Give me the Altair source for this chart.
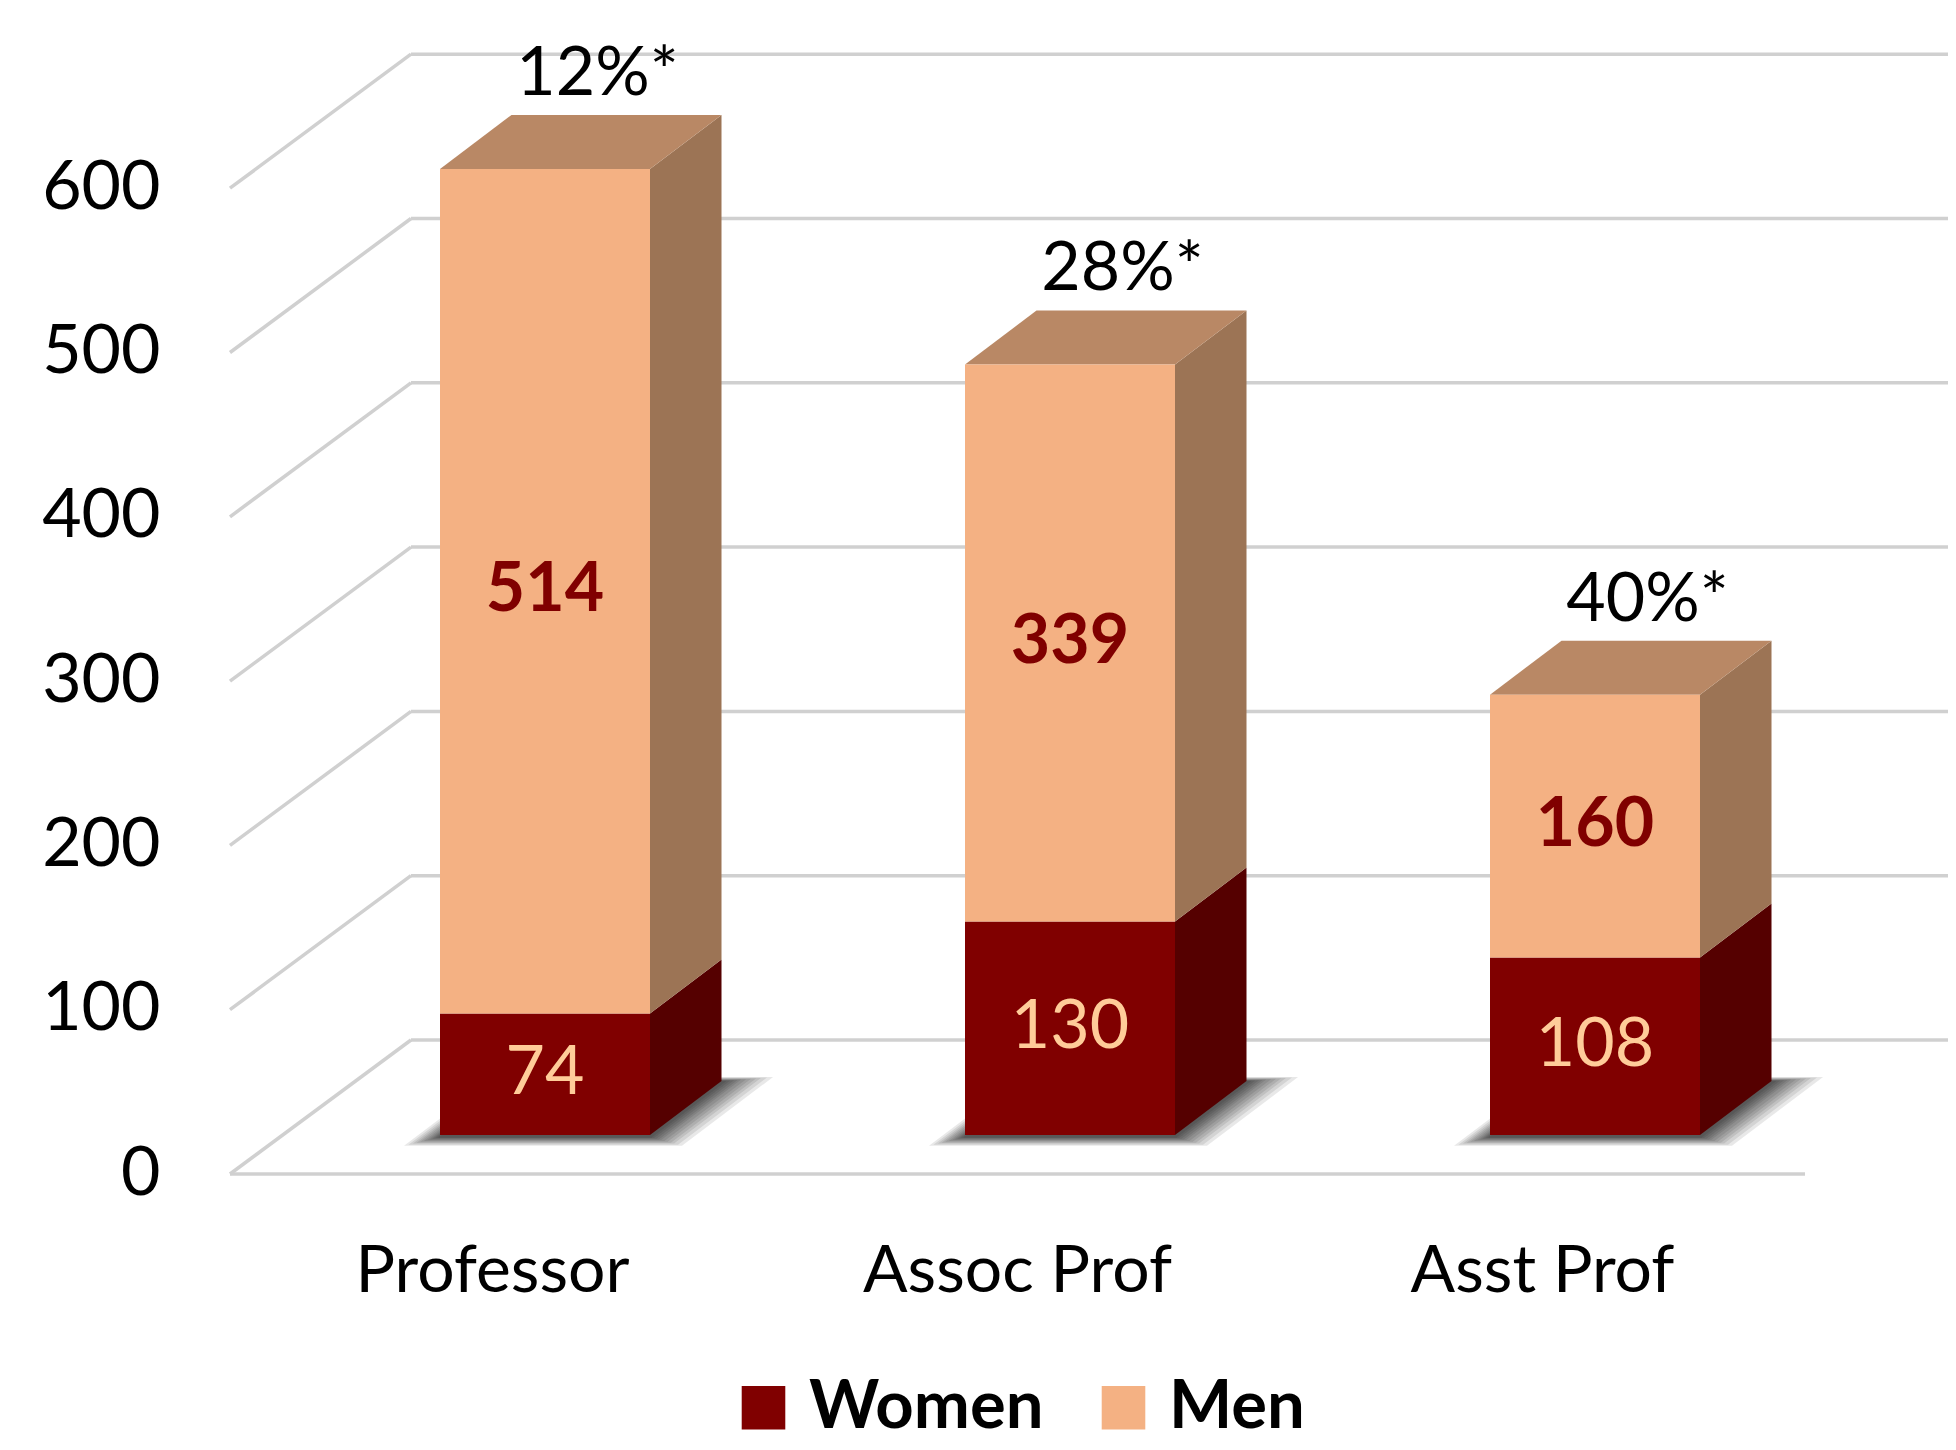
import altair as alt
import pandas as pd

# ---------------- data ----------------
categories = ["Professor", "Assoc Prof", "Asst Prof"]
women = [74, 130, 108]
men = [514, 339, 160]
share_labels = ["12%*", "28%*", "40%*"]
y_ticks = [0, 100, 200, 300, 400, 500, 600]
series = ["Women", "Men"]

# ---------------- style ----------------
FONT = "Lato"
FRONT = {"Women": "#800000", "Men": "#F4B183"}
SIDE = {"Women": "#550000", "Men": "#9C7455"}
TOP = "#B98865"
GRID = "#D0D0D0"

# geometry of the oblique 3-D projection (pixels -> data units)
K = 1.643          # px per value unit
UX = 525.0         # px per category slot
W_PLOT, H_PLOT = 1575, 1166
Y_TOP = H_PLOT / K
def px2u(p): return p / UX
def py2v(p): return p / K

WALL_DX, WALL_DY = px2u(181), py2v(134)
BAR_DY0 = py2v(39)
DEP_DX, DEP_DY = px2u(71.5), py2v(54)
BAR_L, BAR_R = 0.4, 0.8

xs = alt.Scale(domain=[0, 3], nice=False, zero=False)
ys = alt.Scale(domain=[0, Y_TOP], nice=False, zero=False)
Y_AX = alt.Axis(values=y_ticks, labelFont=FONT, labelFontSize=68, labelColor="#000",
                domain=False, ticks=False, grid=False, labelPadding=70, title=None)

def X(f="x:Q"):
    return alt.X(f, scale=xs, axis=None)

def Y(f="y:Q"):
    return alt.Y(f, scale=ys, axis=Y_AX)

# ---------------- grid / walls ----------------
rules = []
for v in y_ticks:
    rules.append(dict(x=WALL_DX, x2=3 + WALL_DX, y=v + WALL_DY, y2=v + WALL_DY))
    rules.append(dict(x=0, x2=WALL_DX, y=v, y2=v + WALL_DY))
rules.append(dict(x=0, x2=3, y=0, y2=0))
rules_df = pd.DataFrame(rules)

grid = alt.Chart(rules_df).mark_rule(color=GRID, strokeWidth=3.5).encode(
    x=X(), x2="x2:Q", y=Y(), y2="y2:Q")

# ---------------- polygons (shadows, side and top faces) ----------------
poly_rows = []
SH_STEPS = [2, 5, 8, 11, 14, 18, 22, 26, 30, 35, 40]
for i, c in enumerate(categories):
    # soft shadow under each bar, built from stacked translucent footprints
    for k, e in enumerate(SH_STEPS):
        yb = BAR_DY0 - py2v(2 + e * 0.22)
        yt = BAR_DY0 + DEP_DY + py2v(e * 0.1)
        s = px2u((yt - yb) * K * 71.5 / 54)
        L = i + BAR_L - px2u(e * 0.9)
        R = i + BAR_R + px2u(e * 0.8)
        pid = f"{i}-sh{k}"
        for x, y, y2 in [(L, yb, yb), (L + s, yb, yt), (R, yb, yt), (R + s, yt, yt)]:
            poly_rows.append(dict(poly=pid, z=0, fill="#000000", x=x, y=y, y2=y2))
    segs = [("Women", 0, women[i]), ("Men", women[i], women[i] + men[i])]
    for s_name, lo, hi in segs:
        pid = f"{i}-{s_name}-side"
        for x, y, y2 in [(i + BAR_R, lo + BAR_DY0, hi + BAR_DY0),
                         (i + BAR_R + DEP_DX, lo + BAR_DY0 + DEP_DY, hi + BAR_DY0 + DEP_DY)]:
            poly_rows.append(dict(poly=pid, z=1, fill=SIDE[s_name], x=x, y=y, y2=y2))
    t = women[i] + men[i] + BAR_DY0
    pid = f"{i}-top"
    for x, y, y2 in [(i + BAR_L, t, t), (i + BAR_L + DEP_DX, t, t + DEP_DY),
                     (i + BAR_R, t, t + DEP_DY), (i + BAR_R + DEP_DX, t + DEP_DY, t + DEP_DY)]:
        poly_rows.append(dict(poly=pid, z=1, fill=TOP, x=x, y=y, y2=y2))
poly_df = pd.DataFrame(poly_rows)

shadow = alt.Chart(poly_df[poly_df.z == 0]).mark_area(
    color="#000000", opacity=0.09, interpolate="linear").encode(
    x=X(), y=Y(), y2="y2:Q", detail="poly:N")

faces = alt.Chart(poly_df[poly_df.z == 1]).mark_area(interpolate="linear").encode(
    x=X(), y=Y(), y2="y2:Q", color=alt.Color("fill:N", scale=None), detail="poly:N")

# ---------------- front faces ----------------
front_rows = []
for i, c in enumerate(categories):
    for s_name, lo, hi in [("Women", 0, women[i]), ("Men", women[i], women[i] + men[i])]:
        front_rows.append(dict(category=c, series=s_name, x=i + BAR_L, x2=i + BAR_R,
                               y=lo + BAR_DY0, y2=hi + BAR_DY0))
front_df = pd.DataFrame(front_rows)

fronts = alt.Chart(front_df).mark_rect().encode(
    x=X(), x2="x2:Q", y=Y(), y2="y2:Q",
    color=alt.Color("series:N",
                    scale=alt.Scale(domain=series, range=[FRONT[s] for s in series]),
                    legend=alt.Legend(title=None, orient="none", direction="horizontal",
                                      legendX=500, legendY=1366,
                                      symbolType="square", symbolSize=1900, symbolStrokeWidth=0,
                                      labelFont=FONT, labelFontSize=67, labelFontWeight="bold",
                                      labelColor="#000", labelOffset=12, columnPadding=46,
                                      labelLimit=400)),
)

# ---------------- labels ----------------
lab_rows = []
for i, c in enumerate(categories):
    lab_rows.append(dict(kind="women", text=str(women[i]), x=i + 0.6, y=women[i] / 2 + BAR_DY0))
    lab_rows.append(dict(kind="men", text=str(men[i]), x=i + 0.6,
                         y=women[i] + men[i] / 2 + BAR_DY0))
lab_df = pd.DataFrame(lab_rows)

women_txt = alt.Chart(lab_df[lab_df.kind == "women"]).mark_text(
    font=FONT, fontSize=68, color="#FFCC99", baseline="middle", align="center").encode(
    x=X(), y=Y(), text="text:N")
men_txt = alt.Chart(lab_df[lab_df.kind == "men"]).mark_text(
    font=FONT, fontSize=68, fontWeight="bold", color="#800000", baseline="middle",
    align="center").encode(x=X(), y=Y(), text="text:N")

pct_df = pd.DataFrame(dict(text=share_labels, x=[i + 0.7 for i in range(3)],
                           y=[women[i] + men[i] + BAR_DY0 for i in range(3)]))
pct_txt = alt.Chart(pct_df).mark_text(
    font=FONT, fontSize=68, color="#000", baseline="middle", align="center", dy=-94).encode(
    x=X(), y=Y(), text="text:N")

cat_df = pd.DataFrame(dict(text=categories, x=[i + 0.5 for i in range(3)], y=[0, 0, 0]))
cat_txt = alt.Chart(cat_df).mark_text(
    font=FONT, fontSize=66, color="#000", baseline="middle", align="center", dy=98).encode(
    x=X(), y=Y(), text="text:N")

chart = alt.layer(grid, shadow, faces, fronts, women_txt, men_txt, pct_txt, cat_txt).properties(
    width=W_PLOT, height=H_PLOT,
    autosize=alt.AutoSizeParams(type="none"),
    padding={"left": 222, "top": 0, "right": 143, "bottom": 268},
).configure(background="white", view=alt.ViewConfig(stroke="transparent", strokeWidth=0))

chart.save("out.html", embed_options={"renderer": "svg", "actions": False})
